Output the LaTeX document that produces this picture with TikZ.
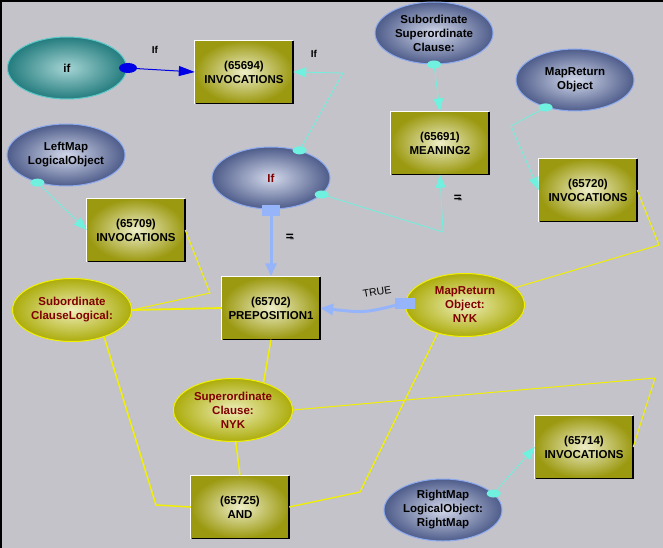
\documentclass[tikz,border=0pt]{standalone}
\usepackage{fontspec}
\setmainfont{Liberation Sans}
\usetikzlibrary{shapes.geometric,arrows.meta}
\definecolor{bg}{RGB}{196,195,201}
\definecolor{olive1}{RGB}{155,153,16}
\definecolor{olive2}{RGB}{238,238,200}
\definecolor{blu1}{RGB}{78,92,138}
\definecolor{blu2}{RGB}{210,216,234}
\definecolor{bluborder}{RGB}{140,170,240}
\definecolor{teal1}{RGB}{36,124,126}
\definecolor{teal2}{RGB}{165,212,212}
\definecolor{tealborder}{RGB}{90,200,200}
\definecolor{yel1}{RGB}{172,172,12}
\definecolor{yel2}{RGB}{238,238,185}
\definecolor{cyanl}{RGB}{112,240,222}
\definecolor{lblue}{RGB}{150,180,250}
\definecolor{dblue}{RGB}{0,0,230}
\definecolor{darkred}{RGB}{128,0,0}
\definecolor{yline}{RGB}{240,240,0}
\newcommand\mybox[4]{%
  \node[boxst] (#1) at (#2,#3) {#4};
  \draw[white,line width=1pt] (#1.south west) -- (#1.north west) -- (#1.north east);
  \draw[black,line width=1.5pt] ([yshift=-1]#1.north east) -- (#1.south east) -- ([xshift=1]#1.south west);
}
\begin{document}
\begin{tikzpicture}[x=1pt,y=-1pt,
  txt/.style={font=\fontsize{11.5}{14}\selectfont\bfseries, align=center},
  boxst/.style={txt, rectangle, minimum width=98pt, minimum height=63pt, inner sep=0pt,
     shade, inner color=olive2, outer color=olive1},
  blueell/.style={txt, ellipse, minimum width=118pt, minimum height=62pt, inner sep=0pt,
     shade, inner color=blu2, outer color=blu1, draw=bluborder, line width=1pt},
  tealell/.style={txt, ellipse, minimum width=119pt, minimum height=62pt, inner sep=0pt,
     shade, inner color=teal2, outer color=teal1, draw=tealborder, line width=1pt},
  yelell/.style={txt, ellipse, minimum width=119pt, minimum height=63pt, inner sep=0pt,
     shade, inner color=yel2, outer color=yel1, draw=yline, line width=1pt, text=darkred},
  cyarrow/.style={draw=cyanl, line width=0.8pt, -{Triangle[length=13pt,width=10pt,fill=cyanl]}},
  ylink/.style={draw=yline, line width=1pt},
  lbarrow/.style={draw=lblue, line width=3pt, -{Triangle[length=13pt,width=11pt]}},
  lbl/.style={font=\fontsize{10}{11}\selectfont\bfseries}
]
\useasboundingbox (0,0) rectangle (663,548);
\fill[bg] (0,0) rectangle (663,548);
\fill[black] (0,0) rectangle (663,2);
\fill[black] (0,0) rectangle (1.5,548);

% ---------- nodes ----------
\node[tealell] (ifT) at (67,68) {if};
\mybox{invA}{244}{72}{(65694)\\INVOCATIONS}
\node[blueell] (SSC) at (434,33) {Subordinate\\Superordinate\\Clause:};
\node[blueell] (MRO) at (575,80) {MapReturn\\Object};
\mybox{mean}{440}{143}{(65691)\\MEANING2}
\node[blueell] (LM) at (66,155) {LeftMap\\LogicalObject};
\mybox{invB}{136}{230}{(65709)\\INVOCATIONS}
\node[blueell, text=darkred] (If) at (271,178) {If};
\mybox{invC}{588}{190}{(65720)\\INVOCATIONS}
\node[yelell] (SCL) at (72,310) {Subordinate\\ClauseLogical:};
\mybox{prep}{271}{308}{(65702)\\PREPOSITION1}
\node[yelell] (MRN) at (465,305) {MapReturn\\Object:\\NYK};
\node[yelell] (SCN) at (233,410) {Superordinate\\Clause:\\NYK};
\mybox{andB}{240}{507}{(65725)\\AND}
\mybox{invD}{584}{447}{(65714)\\INVOCATIONS}
\node[blueell] (RM) at (443,510) {RightMap\\LogicalObject:\\RightMap};

% ---------- bend points ----------
\coordinate (b1) at (343,73);
\coordinate (b2) at (443,232);
\coordinate (b3) at (511,126);
\coordinate (y1) at (210,293);
\coordinate (y2) at (156,505);
\coordinate (y3) at (360,492);
\coordinate (y4) at (655,378);
\coordinate (y5) at (659,245);
\coordinate (c1) at (365,313);

% ---------- yellow links ----------
\draw[ylink] (invB.east) -- (y1) -- (SCL.east);
\draw[ylink, line width=1.8pt] (SCL.east) -- (prep.west);
\draw[ylink, line width=1.5pt] (SCL.-40) -- (y2) -- (andB.west);
\draw[ylink, line width=1.5pt] (prep.south) -- (SCN.42);
\draw[ylink, line width=1.5pt] (SCN.-85) -- (andB.north);
\draw[ylink, line width=1.3pt] (andB.east) -- (y3) -- (MRN.226);
\draw[ylink] (SCN.east) -- (y4) -- (invD.east);
\draw[ylink] (invC.east) -- (y5) -- (MRN.19);

% ---------- blue arrow ----------
\draw[dblue, line width=1pt, -{Triangle[length=16pt,width=10pt]}] (ifT.east) -- (invA.west);
\fill[dblue] ([xshift=1]ifT.east) ellipse (9 and 5);
\node[lbl] (l1) at (155,50) {If};

% ---------- cyan arrows ----------
\draw[cyarrow] (If.44) -- (b1) -- (invA.east);
\fill[cyanl] (If.44) ellipse (7 and 4);
\node[lbl] (l2) at (314,54) {If};

\draw[cyarrow] (If.-18) -- (b2) -- (mean.south);
\fill[cyanl] (If.-18) ellipse (7 and 4);
\node[lbl, rotate=-90] (l3) at (458,198) {If};

\draw[cyarrow] (SSC.south) -- (mean.north);
\fill[cyanl] (SSC.south) ellipse (7 and 4);

\draw[cyarrow] (MRO.223) -- (b3) -- (invC.west);
\fill[cyanl] (MRO.223) ellipse (7 and 4);

\draw[cyarrow] (LM.224) -- (invB.west);
\fill[cyanl] (LM.224) ellipse (7 and 4);

\draw[cyarrow] (RM.18) -- (invD.west);
\fill[cyanl] (RM.18) ellipse (7 and 4);

% ---------- light blue arrows ----------
\draw[lbarrow] (If.south) -- (prep.north);
\fill[lblue] (If.south) ++(-9,-5) rectangle ++(18,11);
\node[lbl, rotate=-90] (l4) at (290,237) {If};

\draw[lbarrow] (MRN.178) .. controls (c1) .. (prep.east);
\fill[lblue] (MRN.178) ++(-10,-5) rectangle ++(20,11);
\node[lbl, rotate=10, font=\fontsize{10.5}{11}\selectfont] (l5) at (377,292) {TRUE};
\end{tikzpicture}
\end{document}
